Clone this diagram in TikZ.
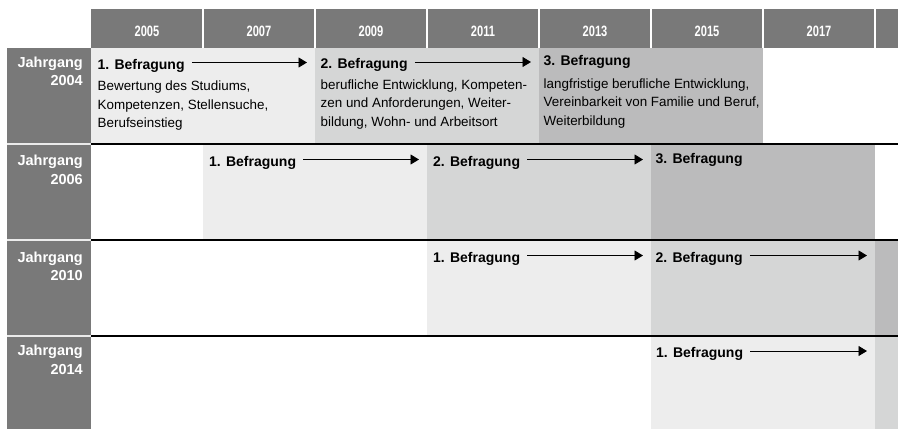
\documentclass[tikz,border=0pt]{standalone}
\usepackage{fontspec}
\setmainfont{Liberation Sans}
\newfontfamily\jahrfont{Liberation Sans}[FakeStretch=0.74]
\usetikzlibrary{arrows.meta}

\definecolor{kopf}{RGB}{121,121,121}
\definecolor{welleA}{RGB}{237,237,237}
\definecolor{welleB}{RGB}{213,214,214}
\definecolor{welleC}{RGB}{187,187,188}

\begin{document}
\begin{tikzpicture}[x=1pt,y=-1pt,
	jahr/.style={text=white, font=\jahrfont\bfseries\fontsize{15}{17}\selectfont},
	kohorte/.style={text=white, font=\bfseries\fontsize{14.5}{18.5}\selectfont, align=right, inner sep=0pt, anchor=north east},
	befr/.style={font=\bfseries\fontsize{14}{16}\selectfont, inner sep=0pt, text height=13pt, text depth=0pt, anchor=base west},
	thema/.style={font=\fontsize{13.4}{18.5}\selectfont, align=left, inner sep=0pt, anchor=north west},
	pfeil/.style={line width=0.9pt, -{Triangle[length=8.5pt,width=10pt]}, shorten <=7pt}]
			\useasboundingbox (0,0) rectangle (898,429);
			% Flaechen der Befragungswellen
			\fill [welleA] (91,48) rectangle (315,144);
			\fill [welleB] (315,48) rectangle (539,144);
			\fill [welleC] (539,48) rectangle (763,144);
			\fill [welleA] (203,144) rectangle (427,240);
			\fill [welleB] (427,144) rectangle (651,240);
			\fill [welleC] (651,144) rectangle (875,240);
			\fill [welleA] (427,240) rectangle (651,336);
			\fill [welleB] (651,240) rectangle (875,336);
			\fill [welleC] (875,240) rectangle (898,336);
			\fill [welleA] (651,336) rectangle (875,429);
			\fill [welleB] (875,336) rectangle (898,429);
			% Kopfzeile mit den Jahren
			\fill [kopf] (91,9) rectangle (898,48);
			\draw [white, line width=1.2pt] (203,9)--(203,48) (315,9)--(315,48) (427,9)--(427,48) (539,9)--(539,48) (651,9)--(651,48) (763,9)--(763,48) (875,9)--(875,48);
			\node [jahr] (j05) at (147,31) {2005};
			\node [jahr] (j07) at (259,31) {2007};
			\node [jahr] (j09) at (371,31) {2009};
			\node [jahr] (j11) at (483,31) {2011};
			\node [jahr] (j13) at (595,31) {2013};
			\node [jahr] (j15) at (707,31) {2015};
			\node [jahr] (j17) at (819,31) {2017};
			% Spalte der Jahrgaenge
			\fill [kopf] (7,48) rectangle (91,429);
			\draw [white!85!kopf, line width=1.2pt] (7,144)--(91,144) (7,240)--(91,240) (7,336)--(91,336);
			\draw [line width=1.2pt] (91,144)--(898,144) (91,240)--(898,240) (91,336)--(898,336);
			\node [kohorte] (k04) at (83,56.7) {Jahrgang\\2004};
			\node [kohorte] (k06) at (83,155) {Jahrgang\\2006};
			\node [kohorte] (k10) at (83,251.7) {Jahrgang\\2010};
			\node [kohorte] (k14) at (83,345) {Jahrgang\\2014};
			% Jahrgang 2004
			\node [befr] (r1b1) at (97.5,69) {1. Befragung};
			\node [befr] (r1b2) at (320.5,68.5) {2. Befragung};
			\node [befr] (r1b3) at (543.5,65.5) {3. Befragung};
			\node [thema] (r1t1) at (97.5,80.8) {Bewertung des Studiums,\\Kompetenzen, Stellensuche,\\Berufseinstieg};
			\node [thema] (r1t2) at (320.5,79.5) {berufliche Entwicklung, Kompeten-\\zen und Anforderungen, Weiter-\\bildung, Wohn- und Arbeitsort};
			\node [thema] (r1t3) at (543.5,78.5) {langfristige berufliche Entwicklung,\\Vereinbarkeit von Familie und Beruf,\\Weiterbildung};
			\draw [pfeil, shorten >=13.5pt] (r1b1.east) -- (r1b1.east -| r1b2.west);
			\draw [pfeil, shorten >=12.5pt] (r1b2.east) -- (r1b2.east -| r1b3.west);
			% Jahrgang 2006
			\node [befr] (r2b1) at (209,166) {1. Befragung};
			\node [befr] (r2b2) at (433,166) {2. Befragung};
			\node [befr] (r2b3) at (655.5,163) {3. Befragung};
			\draw [pfeil, shorten >=14pt] (r2b1.east) -- (r2b1.east -| r2b2.west);
			\draw [pfeil, shorten >=12.5pt] (r2b2.east) -- (r2b2.east -| r2b3.west);
			% Jahrgang 2010
			\node [befr] (r3b1) at (433,262) {1. Befragung};
			\node [befr] (r3b2) at (655.5,262) {2. Befragung};
			\coordinate (r3ende) at (867,262);
			\draw [pfeil, shorten >=12.5pt] (r3b1.east) -- (r3b1.east -| r3b2.west);
			\draw [pfeil] (r3b2.east) -- (r3b2.east -| r3ende);
			% Jahrgang 2014
			\node [befr] (r4b1) at (656,357.5) {1. Befragung};
			\coordinate (r4ende) at (867,357.5);
			\draw [pfeil] (r4b1.east) -- (r4b1.east -| r4ende);
		\end{tikzpicture}
\end{document}
